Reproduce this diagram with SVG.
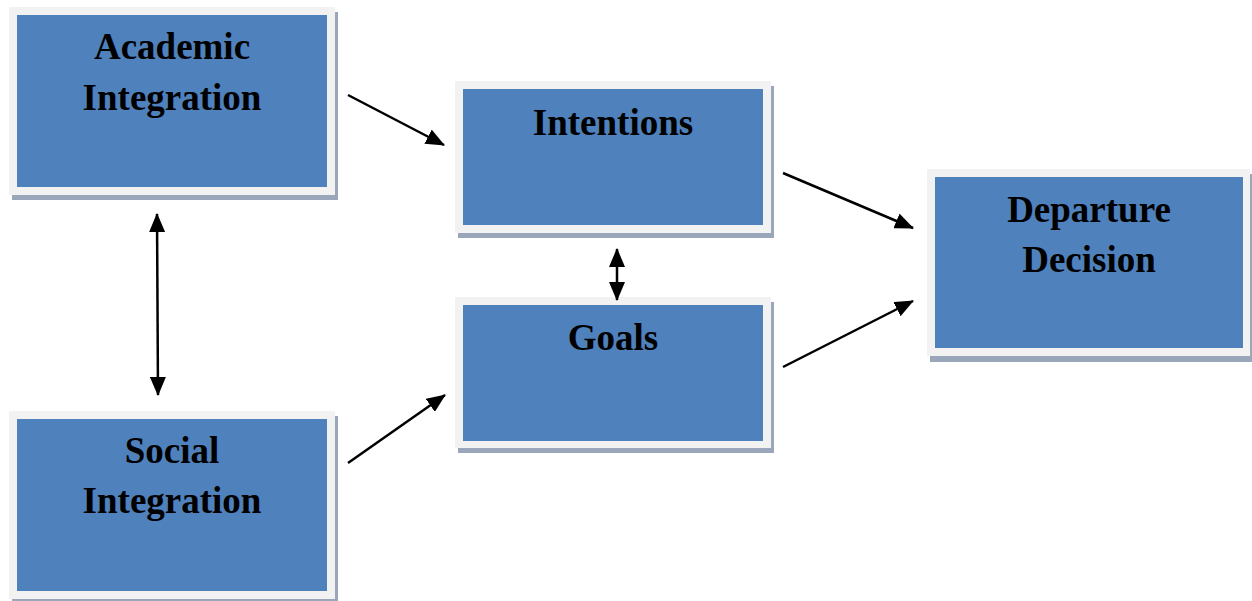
<svg xmlns="http://www.w3.org/2000/svg" width="1252" height="601" viewBox="0 0 1252 601">
<style>
.shadow{fill:#9aa6b9}
.frame{fill:#f2f2f2}
.inner{fill:#4f81bd}
.lbl{font-family:"Liberation Serif","Times New Roman",serif;font-weight:bold;font-size:37px;fill:#000;text-anchor:middle}
.conn{stroke:#000;stroke-width:2.5;fill:none}
</style>
<defs>
<marker id="ah" markerUnits="userSpaceOnUse" markerWidth="20" markerHeight="16" refX="18" refY="8" orient="auto-start-reverse" viewBox="0 0 20 16">
<path d="M0,0 L19,8 L0,16 Z" fill="#000"/>
</marker>
</defs>
<rect width="1252" height="601" fill="#fff"/>
<g id="academic">
<rect class="shadow" x="12" y="12" width="326" height="188"/>
<rect class="frame" x="9" y="7" width="326" height="188"/>
<rect class="inner" x="17" y="15" width="310" height="172"/>
<text class="lbl" x="172" y="59">Academic</text>
<text class="lbl" x="172" y="110">Integration</text>
</g>
<g id="social">
<rect class="shadow" x="12" y="416" width="326" height="185"/>
<rect class="frame" x="9" y="411" width="326" height="188"/>
<rect class="inner" x="17" y="419" width="310" height="172"/>
<text class="lbl" x="172" y="463">Social</text>
<text class="lbl" x="172" y="513">Integration</text>
</g>
<g id="intentions">
<rect class="shadow" x="458" y="86" width="316" height="152"/>
<rect class="frame" x="455" y="81" width="316" height="152"/>
<rect class="inner" x="463" y="89" width="300" height="136"/>
<text class="lbl" x="613" y="135">Intentions</text>
</g>
<g id="goals">
<rect class="shadow" x="458" y="302" width="316" height="151"/>
<rect class="frame" x="455" y="297" width="316" height="151"/>
<rect class="inner" x="463" y="305" width="300" height="136"/>
<text class="lbl" x="613" y="350">Goals</text>
</g>
<g id="departure">
<rect class="shadow" x="930" y="174" width="322" height="188"/>
<rect class="frame" x="927" y="169" width="323" height="187"/>
<rect class="inner" x="935" y="177" width="308" height="171"/>
<text class="lbl" x="1089" y="222">Departure</text>
<text class="lbl" x="1089" y="272">Decision</text>
</g>
<g id="connectors">
<line class="conn" x1="348" y1="95" x2="444" y2="145" marker-end="url(#ah)"/>
<line class="conn" x1="348" y1="463" x2="445" y2="395" marker-end="url(#ah)"/>
<line class="conn" x1="783" y1="173" x2="913" y2="228" marker-end="url(#ah)"/>
<line class="conn" x1="783" y1="367" x2="913" y2="301" marker-end="url(#ah)"/>
<line class="conn" x1="157" y1="214" x2="158" y2="395" marker-start="url(#ah)" marker-end="url(#ah)"/>
<line class="conn" x1="617" y1="249" x2="617" y2="300" marker-start="url(#ah)" marker-end="url(#ah)"/>
</g>
</svg>
